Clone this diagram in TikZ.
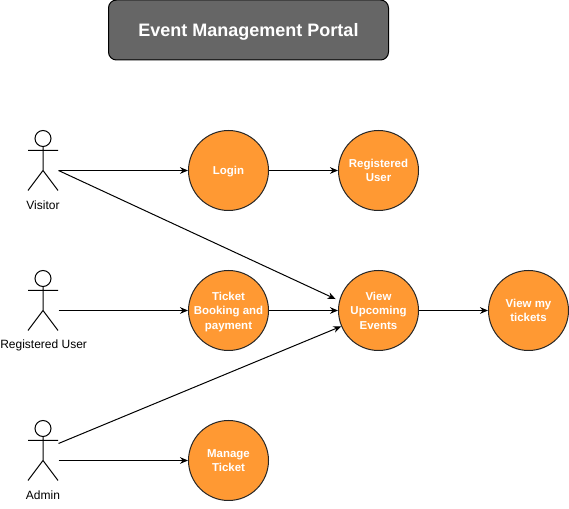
\documentclass[tikz,border=0pt]{standalone}
\usepackage{fontspec}
\setmainfont{Liberation Sans}
\usetikzlibrary{arrows.meta}
\usetikzlibrary{positioning}

\definecolor{portalorange}{HTML}{FF9933}
\definecolor{portalgrey}{HTML}{666666}
\tikzset{
  usecase/.style={circle,draw=black!85,fill=portalorange,text=white,font=\fontsize{8.6}{10.9}\selectfont\bfseries,
    minimum size=60pt,inner sep=-4pt,align=center,text depth=0pt},
  actorbox/.style={minimum width=22.5pt,minimum height=30pt,inner sep=0pt},
  actortext/.style={font=\fontsize{9}{10.9}\selectfont,inner sep=0pt},
  actorman/.pic={
    \draw (0,24pt) circle (6pt);
    \draw (0,18pt) -- (0,0) (-11.25pt,15pt) -- (11.25pt,15pt)
      (-11.25pt,-15pt) -- (0,0) -- (11.25pt,-15pt);
  }
}

\begin{document}
\begin{tikzpicture}[>={Stealth[length=6pt,width=5pt]},x=0.75pt,y=-0.75pt,
    node distance=112.5pt,on grid,line width=0.75pt]
  \useasboundingbox (0,0) rectangle (569,509);
  \node[draw=black,fill=portalgrey,rounded corners=6pt,minimum width=210pt,minimum height=45pt,
    text=white,text depth=0pt,font=\fontsize{13.5}{16}\selectfont\bfseries] (title) at (248.5,30) {Event Management Portal};

  \node[usecase] (L) at (228.5,170.5) {Login};
  \node[usecase] (R) [right=of L] {Registered\\User};
  \node[usecase] (T) [below=105pt of L] {Ticket\\Booking and\\payment};
  \node[usecase] (E) [right=of T] {View\\Upcoming\\Events};
  \node[usecase] (M) [right=of E] {View my\\tickets};
  \node[usecase] (G) [below=of T] {Manage\\Ticket};

  \node[actorbox] (V) at (43,170.5) {};
  \node[actorbox] (U) at (43,310.5) {};
  \node[actorbox] (A) at (43,460.5) {};
  \pic at (V.center) {actorman};
  \pic at (U.center) {actorman};
  \pic at (A.center) {actorman};
  \node[actortext] (Vt) [below=26pt of V] {Visitor};
  \node[actortext] (Ut) [below=26pt of U,xshift=0.5pt] {Registered User};
  \node[actortext] (At) [below=26pt of A] {Admin};

  \path [->]
    (V.east) edge (L)
    (L) edge (R)
    (V.east) edge [shorten >=3pt] (E.166)
    (U.east) edge (T)
    (T) edge (E)
    (E) edge (M)
    (A.east) edge (G);
  \draw[->] ([yshift=12.75pt]A.east) -- (E.203);
\end{tikzpicture}
\end{document}
